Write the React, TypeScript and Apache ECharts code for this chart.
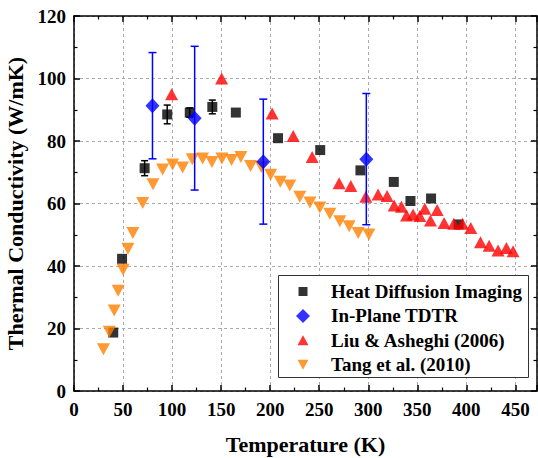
import React, { useEffect, useRef } from "react";
import * as echarts from "echarts";

const hdiT = [40, 49, 72, 95, 118, 141, 165, 208, 251, 292, 326, 343, 364, 392];
const hdiK = [18.7, 42.3, 71.3, 88.5, 89.1, 90.9, 89.1, 80.9, 77.1, 70.6, 66.9, 60.8, 61.6, 53.3];
const hdiErr = [0, 0, 2.4, 3, 1.5, 2.2, 0, 0, 0, 0, 0, 0, 0, 0];

const tdtrT = [80, 123, 193, 298];
const tdtrK = [91.3, 87.3, 73.4, 74.2];
const tdtrErr = [17, 23, 20, 21];

const liuT = [99.5, 150.5, 202, 223.5, 242.8, 270.3, 282.2, 297.5, 310, 319.2, 326.4, 333.8, 339, 345.7, 352.5, 357.6, 363.4, 370.2, 377.3, 387.2, 396, 404.5, 414.4, 423.2, 432.3, 440.8, 447.6];
const liuK = [95, 100, 88.8, 81.6, 74.9, 66.5, 65.6, 62.2, 62.9, 62.4, 59.4, 59, 56.2, 56.5, 56, 58.3, 54.6, 57.9, 53.8, 53.5, 53.5, 52.2, 47.6, 46.5, 45, 45.8, 44.7];

const tangT = [30, 36, 41, 45, 50, 55, 60, 70, 80.5, 90.3, 100.5, 110.7, 120.6, 131.1, 140.6, 150.8, 160.6, 170.1, 180, 191, 200.5, 210.3, 220, 230.2, 240.5, 250.6, 260.8, 271, 280.5, 289.7, 300.6];
const tangK = [13.4, 19, 25.8, 32.1, 38.8, 45.5, 50.6, 60.2, 66.2, 70.9, 72.5, 71.5, 74.2, 74.4, 73.3, 74.4, 73.9, 74.9, 72, 71.7, 69.2, 67, 65.8, 62.2, 60.3, 58.7, 56.7, 54.3, 52.7, 50.6, 50.1];

const names = ["Heat Diffusion Imaging", "In-Plane TDTR", "Liu & Asheghi (2006)", "Tang et al. (2010)"];
const legendIcons = [
  "path://M0,0M16,16M3.5,3.5L12.5,3.5L12.5,12.5L3.5,12.5Z",
  "path://M0,0M16,16M8,1L15,8L8,15L1,8Z",
  "path://M0,0M16,16M8,3L13.5,13L2.5,13Z",
  "path://M0,0M16,16M2.5,3L13.5,3L8,13Z",
];

const FONT = "'Liberation Serif', 'Times New Roman', serif";
const DOWN_TRI = "path://M0,0L12,0L6,11Z";

function errorSeries(xs: number[], ys: number[], es: number[], color: string, cap: number, z: number) {
  return {
    type: "custom",
    z,
    silent: true,
    data: xs.map((x, i) => [x, ys[i], es[i]]).filter((d) => d[2] > 0),
    encode: { x: 0, y: 1 },
    renderItem: (params: any, api: any) => {
      const x = api.value(0);
      const y = api.value(1);
      const e = api.value(2);
      const top = api.coord([x, y + e]);
      const bot = api.coord([x, y - e]);
      const hw = cap / 2;
      const style = { stroke: color, lineWidth: 1.5 };
      return {
        type: "group",
        children: [
          { type: "line", shape: { x1: top[0], y1: top[1], x2: bot[0], y2: bot[1] }, style },
          { type: "line", shape: { x1: top[0] - hw, y1: top[1], x2: top[0] + hw, y2: top[1] }, style },
          { type: "line", shape: { x1: bot[0] - hw, y1: bot[1], x2: bot[0] + hw, y2: bot[1] }, style },
        ],
      };
    },
  };
}

export default function App() {
  const ref = useRef<HTMLDivElement>(null);
  useEffect(() => {
    const chart = echarts.init(ref.current!, null, { renderer: "svg" });
    const axisCommon = {
      axisLine: { show: true, onZero: false, lineStyle: { color: "#000", width: 1.5 } },
      axisTick: { show: true, inside: true, length: 6, lineStyle: { color: "#000", width: 1.5 } },
      minorTick: { show: true, splitNumber: 2, length: 3.5, lineStyle: { color: "#000", width: 1.2 } },
    };
    const labelStyle = { color: "#000", fontFamily: FONT, fontWeight: "bold", fontSize: 19 };
    const nameStyle = { color: "#000", fontFamily: FONT, fontWeight: "bold", fontSize: 22 };
    const option: any = {
      animation: false,
      backgroundColor: "#fff",
      textStyle: { fontFamily: FONT },
      grid: { left: 74, top: 16, right: 1, bottom: 67, containLabel: false, outerBoundsMode: "none" },
      xAxis: [
        {
          type: "value",
          min: 0,
          max: 472,
          interval: 50,
          ...axisCommon,
          axisLabel: { ...labelStyle, margin: 9, showMaxLabel: false },
          splitLine: { show: true, lineStyle: { color: "#aaa", type: [3, 3], width: 1 } },
          name: "Temperature (K)",
          nameLocation: "middle",
          nameGap: 42,
          nameTextStyle: nameStyle,
        },
        {
          type: "value",
          position: "top",
          min: 0,
          max: 472,
          interval: 50,
          ...axisCommon,
          axisLabel: { show: false },
          splitLine: { show: false },
        },
      ],
      yAxis: [
        {
          type: "value",
          min: 0,
          max: 120,
          interval: 20,
          ...axisCommon,
          axisLabel: { ...labelStyle, margin: 8 },
          splitLine: { show: true, lineStyle: { color: "#aaa", type: [3, 3], width: 1 } },
          name: "Thermal Conductivity (W/mK)",
          nameLocation: "middle",
          nameGap: 37,
          nameTextStyle: nameStyle,
        },
        {
          type: "value",
          position: "right",
          min: 0,
          max: 120,
          interval: 20,
          ...axisCommon,
          axisLabel: { show: false },
          splitLine: { show: false },
        },
      ],
      graphic: [
        {
          type: "rect",
          left: 278,
          top: 275,
          z: 3,
          shape: { width: 250, height: 102 },
          style: { fill: "#fff", stroke: "#333", lineWidth: 1 },
        },
      ],
      legend: {
        orient: "vertical",
        left: 295,
        top: 282,
        padding: 0,
        itemWidth: 16,
        itemHeight: 16,
        itemGap: 5.4,
        selectedMode: false,
        z: 5,
        textStyle: { color: "#000", fontFamily: FONT, fontWeight: "bold", fontSize: 19, lineHeight: 18, padding: [0, 0, 0, 15] },
        data: names.map((n, i) => ({ name: n, icon: legendIcons[i] })),
      },
      series: [
        errorSeries(hdiT, hdiK, hdiErr, "#000", 7, 2),
        {
          name: names[0],
          type: "scatter",
          z: 3,
          symbol: "rect",
          symbolSize: 10,
          itemStyle: { color: "#000" },
          data: hdiT.map((x, i) => [x, hdiK[i]]),
        },
        {
          name: names[2],
          type: "scatter",
          z: 4,
          symbol: "triangle",
          symbolSize: [13, 12],
          itemStyle: { color: "#ff0000" },
          data: liuT.map((x, i) => [x, liuK[i]]),
        },
        {
          name: names[3],
          type: "scatter",
          z: 5,
          symbol: DOWN_TRI,
          symbolSize: [13, 12],
          itemStyle: { color: "#ff8000" },
          data: tangT.map((x, i) => [x, tangK[i]]),
        },
        errorSeries(tdtrT, tdtrK, tdtrErr, "#0000ff", 8, 6),
        {
          name: names[1],
          type: "scatter",
          z: 7,
          symbol: "diamond",
          symbolSize: [14, 15],
          itemStyle: { color: "#0000ff" },
          data: tdtrT.map((x, i) => [x, tdtrK[i]]),
        },
      ],
    };
    chart.setOption(option);
    return () => chart.dispose();
  }, []);
  return <div ref={ref} style={{ width: 538, height: 458, position: "absolute", left: 0, top: 0 }} />;
}
